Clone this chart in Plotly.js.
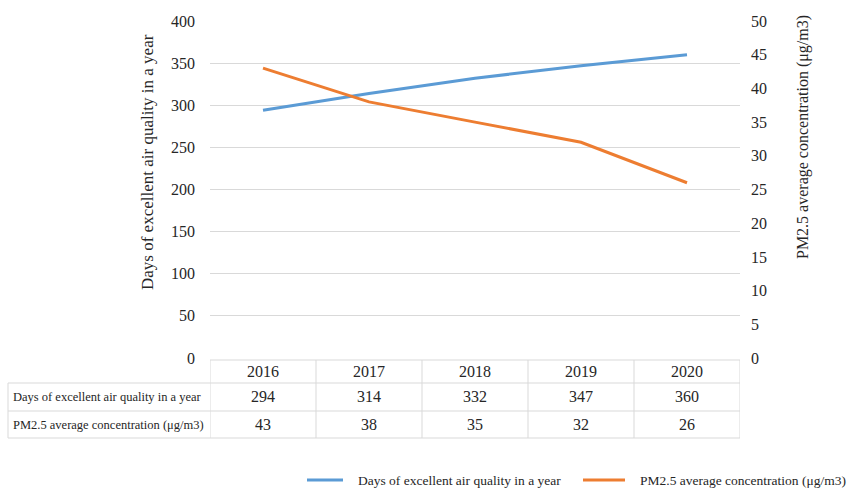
<!DOCTYPE html>
<html>
<head>
<meta charset="utf-8">
<script src="https://cdn.plot.ly/plotly-3.0.1.min.js"></script>
<style>html,body{margin:0;padding:0;background:#fff;}#chart{width:850px;height:492px;}</style>
</head>
<body>
<div id="chart"></div>
<script>
const years = ['2016', '2017', '2018', '2019', '2020'];
const daysName = 'Days of excellent air quality in a year';
const pmName = 'PM2.5 average concentration (μg/m3)';
const daysValues = [294, 314, 332, 347, 360];
const pmValues = [43, 38, 35, 32, 26];
const leftTicks = [0, 50, 100, 150, 200, 250, 300, 350, 400];
const rightTicks = [0, 5, 10, 15, 20, 25, 30, 35, 40, 45, 50];

const FONT = 'Liberation Serif, Times New Roman, serif';
const TXT = '#262626';
const GRID = '#d9d9d9';
const BLUE = '#5b9bd5';
const ORANGE = '#ed7d31';

// plot area in pixels: x 210..740, y 21..358
const PL = 210, PR = 740, PT = 21, PB = 358;
const W = PR - PL, H = PB - PT;
const py = p => (PB - p) / H;
const px = p => (p - PL) / W;

const rowTop = [360, 383, 411, 438];
const labelLeft = px(8);

const shapes = [];
const gl = (xref, x0, y0, x1, y1, color, width) => shapes.push({type: 'line', xref, yref: 'paper', x0, y0, x1, y1, line: {color: color || GRID, width: width || 1}});
gl('x', -0.5, py(rowTop[0]), years.length - 0.5, py(rowTop[0]));
for (let i = 1; i < rowTop.length; i++) gl('paper', labelLeft, py(rowTop[i]), 1, py(rowTop[i]));
for (let i = 0; i <= years.length; i++) gl('x', i - 0.5, py(rowTop[0]), i - 0.5, py(rowTop[3]));
gl('paper', labelLeft, py(rowTop[1]), labelLeft, py(rowTop[3]));

const annotations = [];
const ann = o => annotations.push(Object.assign({showarrow: false, xanchor: 'center', yanchor: 'middle', yref: 'paper'}, o));
const mid = (a, b) => py((rowTop[a] + rowTop[b]) / 2);
const cellFont = {family: FONT, size: 16, color: TXT};
years.forEach((yr, i) => {
  ann({x: i, xref: 'x', y: mid(0, 1), text: yr, font: cellFont});
  ann({x: i, xref: 'x', y: mid(1, 2), text: String(daysValues[i]), font: cellFont});
  ann({x: i, xref: 'x', y: mid(2, 3), text: String(pmValues[i]), font: cellFont});
});
const labFont = {family: FONT, size: 12.5, color: TXT};
const legFont = {family: FONT, size: 13.5, color: TXT};
ann({x: px(11), xref: 'paper', xanchor: 'left', y: mid(1, 2), text: daysName, font: labFont});
ann({x: px(11), xref: 'paper', xanchor: 'left', y: mid(2, 3), text: pmName, font: labFont});
// axis titles
ann({x: px(147), xref: 'paper', y: py(162), text: daysName, textangle: -90, font: {family: FONT, size: 17, color: TXT}});
ann({x: px(803), xref: 'paper', y: py(137), text: pmName, textangle: -90, font: {family: FONT, size: 16, color: TXT}});

// legend (keys + labels)
const legY = py(480);
gl('paper', px(307), legY, px(343), legY, BLUE, 3);
gl('paper', px(583), legY, px(625), legY, ORANGE, 3);
ann({x: px(356), xref: 'paper', xanchor: 'left', y: legY, text: daysName, font: legFont});
ann({x: px(638), xref: 'paper', xanchor: 'left', y: legY, text: pmName, font: legFont});

const traces = [
  {x: years, y: daysValues, name: daysName, type: 'scatter', mode: 'lines', line: {color: BLUE, width: 3}, yaxis: 'y'},
  {x: years, y: pmValues, name: pmName, type: 'scatter', mode: 'lines', line: {color: ORANGE, width: 3}, yaxis: 'y2'}
];

const layout = {
  width: 850, height: 492,
  margin: {l: PL, r: 850 - PR, t: PT, b: 492 - PB, pad: 0},
  paper_bgcolor: '#fff', plot_bgcolor: '#fff',
  font: {family: FONT, color: TXT},
  xaxis: {type: 'category', range: [-0.5, years.length - 0.5], showticklabels: false, showgrid: false, zeroline: false, showline: false, ticks: '', fixedrange: true},
  yaxis: {range: [0, 400], tickvals: leftTicks, ticktext: leftTicks.map(String), showgrid: true, gridcolor: GRID, gridwidth: 1, zeroline: false, showline: false, ticks: '', ticklabelstandoff: 14, tickfont: {family: FONT, size: 16, color: TXT}},
  yaxis2: {range: [0, 50], tickvals: rightTicks, ticktext: rightTicks.map(String), overlaying: 'y', side: 'right', showgrid: false, zeroline: false, showline: false, ticks: '', ticklabelstandoff: 10, tickfont: {family: FONT, size: 16, color: TXT}},
  showlegend: false,
  shapes, annotations
};

Plotly.newPlot('chart', traces, layout, {displayModeBar: false, staticPlot: true});
</script>
</body>
</html>
